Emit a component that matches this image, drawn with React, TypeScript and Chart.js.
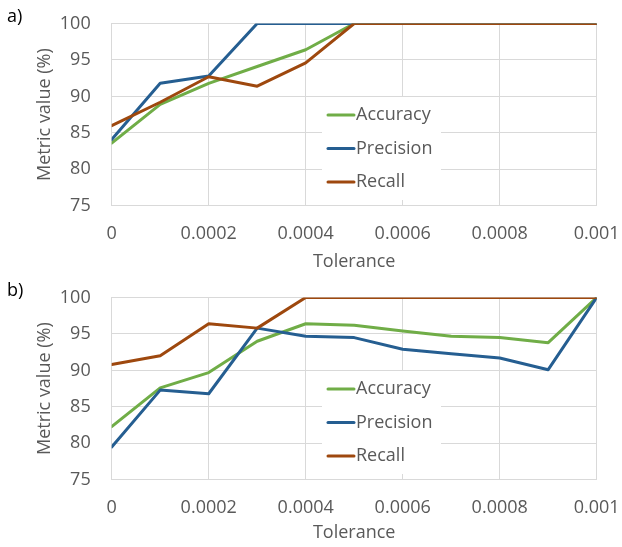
import React, { useEffect, useRef } from "react";
import { Chart, registerables } from "chart.js";

Chart.register(...registerables);

// ---- data ----
const tolerance = [0, 0.0001, 0.0002, 0.0003, 0.0004, 0.0005, 0.0006, 0.0007, 0.0008, 0.0009, 0.001];
const xTicks = [0, 0.0002, 0.0004, 0.0006, 0.0008, 0.001];
const yTicks = [75, 80, 85, 90, 95, 100];
const seriesNames = ["Accuracy", "Precision", "Recall"];

const accuracyA = [83.6, 88.9, 91.8, 94.1, 96.4, 100, 100, 100, 100, 100, 100];
const precisionA = [84.1, 91.8, 92.8, 100, 100, 100, 100, 100, 100, 100, 100];
const recallA = [86.0, 89.2, 92.7, 91.4, 94.6, 100, 100, 100, 100, 100, 100];

const accuracyB = [82.3, 87.6, 89.7, 94.0, 96.4, 96.2, 95.4, 94.7, 94.5, 93.8, 100];
const precisionB = [79.5, 87.3, 86.8, 95.8, 94.7, 94.5, 92.9, 92.3, 91.7, 90.1, 100];
const recallB = [90.8, 92.0, 96.4, 95.8, 100, 100, 100, 100, 100, 100, 100];

// ---- styles ----
const colors = ["#70AD47", "#255E91", "#9E480E"];
const textColor = "#595959";
const gridColor = "#D9D9D9";
const fontFamily = "'Open Sans', sans-serif";
const W = 622;
const H = 273;

const fmt = (v: number | string) => {
  const n = Number(v);
  if (n === 0) return "0";
  return String(parseFloat(n.toFixed(4)));
};

const zeroPad = (s: any) => {
  s.paddingLeft = 0;
  s.paddingRight = 0;
  s.paddingTop = 0;
  s.paddingBottom = 0;
};

const decorPlugin = {
  id: "panelDecor",
  afterDraw(chart: any, _args: any, opts: any) {
    const ctx = chart.ctx;
    ctx.save();
    // panel letter
    ctx.fillStyle = "#000";
    ctx.font = `18px ${fontFamily}`;
    ctx.textBaseline = "middle";
    ctx.textAlign = "left";
    ctx.fillText(opts.letter, 7, 17);
    // legend
    const bx = 322, by = 97, bw = 119, bh = 103;
    ctx.fillStyle = "#fff";
    ctx.fillRect(bx, by, bw, bh);
    const rows = [115, 148.5, 182];
    chart.data.datasets.forEach((ds: any, i: number) => {
      const y = rows[i];
      ctx.strokeStyle = ds.borderColor;
      ctx.lineWidth = 3;
      ctx.lineCap = "round";
      ctx.beginPath();
      ctx.moveTo(328, y);
      ctx.lineTo(354, y);
      ctx.stroke();
      ctx.fillStyle = textColor;
      ctx.font = `18px ${fontFamily}`;
      ctx.fillText(ds.label, 356, y);
    });
    ctx.restore();
  },
};

function Panel({ letter, acc, prec, rec, top, xTitlePad }: any) {
  const ref = useRef<HTMLCanvasElement>(null);
  useEffect(() => {
    const series = [acc, prec, rec];
    const tickFont = { family: fontFamily, size: 18 };
    const titleFont = { family: fontFamily, size: 18 };
    const chart = new Chart(ref.current as HTMLCanvasElement, {
      type: "line",
      data: {
        datasets: seriesNames.map((name, i) => ({
          label: name,
          data: tolerance.map((x, j) => ({ x, y: series[i][j] })),
          borderColor: colors[i],
          backgroundColor: colors[i],
          borderWidth: 3,
          pointRadius: 0,
          tension: 0,
          borderJoinStyle: "round",
          borderCapStyle: "round",
          order: 2 - i,
        })),
      } as any,
      options: {
        responsive: false,
        animation: false,
        events: [],
        layout: { padding: { left: 0, top: 23.5, right: 25.3, bottom: 0 } },
        plugins: {
          legend: { display: false },
          tooltip: { enabled: false },
          panelDecor: { letter },
        } as any,
        scales: {
          x: {
            type: "linear",
            min: 0,
            max: 0.001,
            afterBuildTicks: (s: any) => {
              s.ticks = xTicks.map((v) => ({ value: v }));
            },
            ticks: {
              callback: (v: any) => fmt(v),
              font: tickFont,
              color: textColor,
              padding: 17,
              maxRotation: 0,
              autoSkip: false,
            },
            grid: { color: gridColor, drawTicks: false, lineWidth: 1 },
            border: { color: gridColor },
            title: {
              display: true,
              text: "Tolerance",
              font: titleFont,
              color: textColor,
              padding: { top: 0, bottom: xTitlePad },
            },
            afterFit: (s: any) => {
              s.height = H - 205.8;
              zeroPad(s);
            },
          },
          y: {
            type: "linear",
            min: 75,
            max: 100,
            afterBuildTicks: (s: any) => {
              s.ticks = yTicks.map((v) => ({ value: v }));
            },
            ticks: { font: tickFont, color: textColor, padding: 21 },
            grid: { color: gridColor, drawTicks: false, lineWidth: 1 },
            border: { color: gridColor },
            title: {
              display: true,
              text: "Metric value (%)",
              font: titleFont,
              color: textColor,
              padding: { top: 34, bottom: 0 },
            },
            afterFit: (s: any) => {
              s.width = 111.7;
              zeroPad(s);
            },
          },
        } as any,
      },
      plugins: [decorPlugin],
    });
    return () => chart.destroy();
  }, []);
  return (
    <canvas
      ref={ref}
      width={W}
      height={H}
      style={{ position: "absolute", left: 0, top, width: W, height: H, display: "block" }}
    />
  );
}

export default function App() {
  return (
    <div style={{ position: "absolute", left: 0, top: 0, width: W, height: 547, background: "#fff" }}>
      <Panel letter="a)" acc={accuracyA} prec={precisionA} rec={recallA} top={0} xTitlePad={0} />
      <Panel letter="b)" acc={accuracyB} prec={precisionB} rec={recallB} top={274} xTitlePad={3} />
    </div>
  );
}
